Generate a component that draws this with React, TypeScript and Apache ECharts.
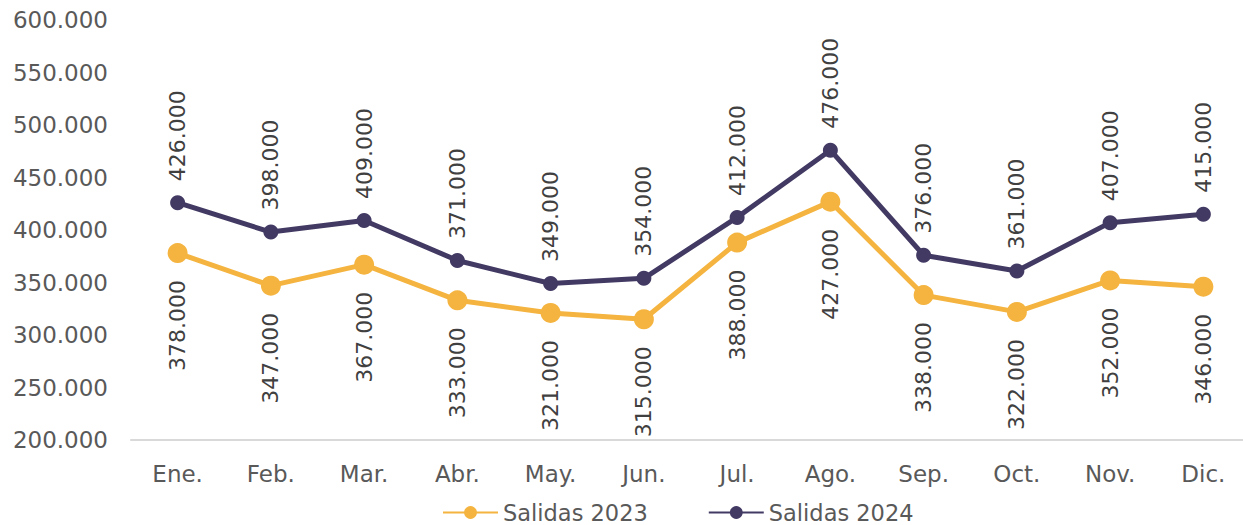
import React, { useEffect, useRef } from "react";
import * as echarts from "echarts";

const categories = ["Ene.", "Feb.", "Mar.", "Abr.", "May.", "Jun.", "Jul.", "Ago.", "Sep.", "Oct.", "Nov.", "Dic."];
const salidas2023 = [378000, 347000, 367000, 333000, 321000, 315000, 388000, 427000, 338000, 322000, 352000, 346000];
const salidas2024 = [426000, 398000, 409000, 371000, 349000, 354000, 412000, 476000, 376000, 361000, 407000, 415000];
const seriesNames = ["Salidas 2023", "Salidas 2024"];

const FONT = "DejaVu Sans";
const fmt = (v: number) => String(Math.round(v)).replace(/\B(?=(\d{3})+(?!\d))/g, ".");

export default function App() {
  const ref = useRef<HTMLDivElement>(null);
  useEffect(() => {
    if (!ref.current) return;
    const chart = echarts.init(ref.current, null, { renderer: "svg" });
    chart.setOption({
      animation: false,
      textStyle: { fontFamily: FONT },
      grid: { left: 131, right: 0, top: 20, bottom: 85 },
      legend: {
        left: 437,
        bottom: -4,
        itemWidth: 55,
        itemHeight: 16,
        itemGap: 60,
        textStyle: { fontFamily: FONT, fontSize: 22.5, color: "#595959" },
        data: seriesNames,
      },
      xAxis: {
        type: "category",
        data: categories,
        boundaryGap: true,
        axisLine: { lineStyle: { color: "#d9d9d9", width: 2 } },
        axisTick: { show: false },
        axisLabel: { fontFamily: FONT, fontSize: 23, color: "#595959", margin: 22 },
      },
      yAxis: {
        type: "value",
        min: 200000,
        max: 600000,
        interval: 50000,
        splitLine: { show: false },
        axisLine: { show: false },
        axisTick: { show: false },
        axisLabel: { fontFamily: FONT, fontSize: 23, color: "#595959", margin: 23, formatter: (v: number) => fmt(v) },
      },
      series: [
        {
          name: seriesNames[0],
          type: "line",
          data: salidas2023,
          symbol: "circle",
          symbolSize: 20,
          itemStyle: { color: "#F4B43F" },
          lineStyle: { color: "#F4B43F", width: 5 },
          label: {
            show: true,
            position: "bottom",
            distance: 17,
            rotate: 90,
            align: "right",
            verticalAlign: "middle",
            fontFamily: FONT,
            fontSize: 22,
            color: "#404040",
            formatter: (p: any) => fmt(p.value),
          },
          z: 2,
        },
        {
          name: seriesNames[1],
          type: "line",
          data: salidas2024,
          symbol: "circle",
          symbolSize: 15,
          itemStyle: { color: "#433A64" },
          lineStyle: { color: "#433A64", width: 5 },
          label: {
            show: true,
            position: "top",
            distance: 14,
            rotate: 90,
            align: "left",
            verticalAlign: "middle",
            fontFamily: FONT,
            fontSize: 22,
            color: "#404040",
            formatter: (p: any) => fmt(p.value),
          },
          z: 3,
        },
      ],
    });
    return () => chart.dispose();
  }, []);
  return (
    <div style={{ position: "absolute", left: 0, top: 0, width: 1243, height: 525, overflow: "hidden", background: "#fff" }}>
      <div ref={ref} style={{ width: 1250, height: 525 }} />
    </div>
  );
}
